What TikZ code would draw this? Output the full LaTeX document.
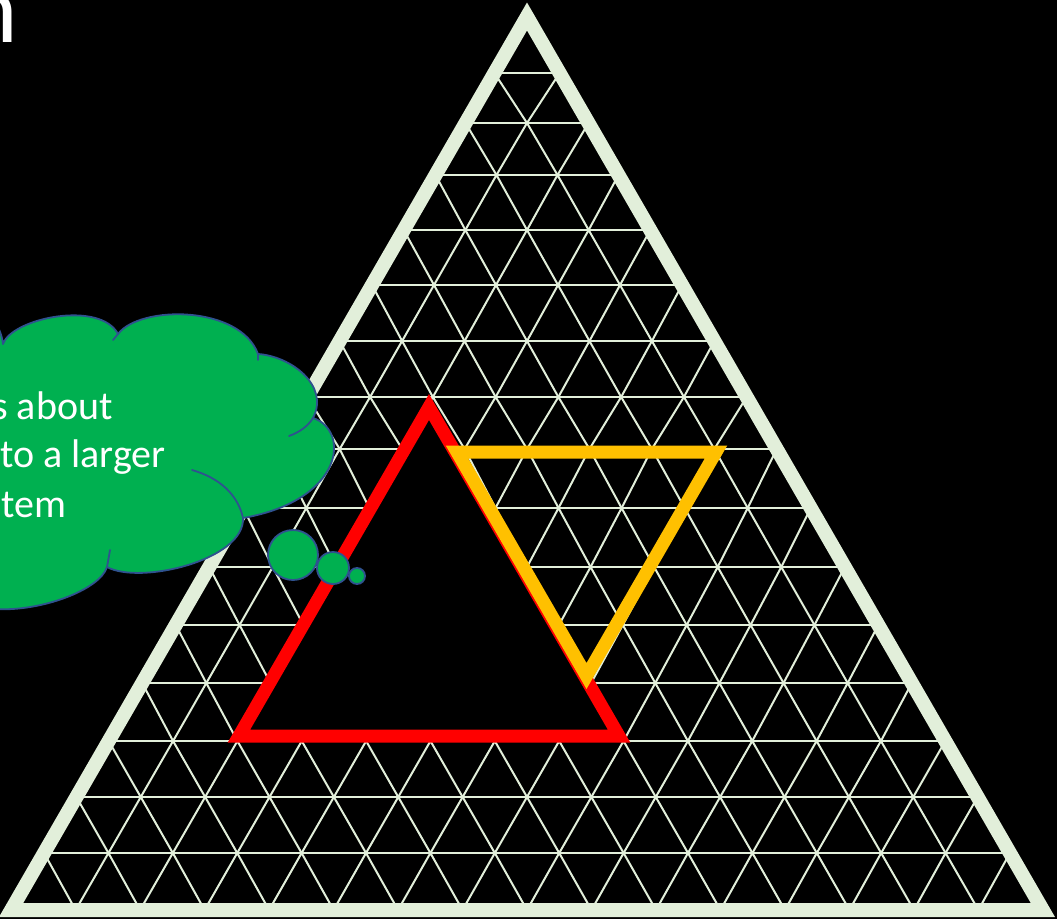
\documentclass[tikz,border=0pt]{standalone}
\usepackage{fontspec}
\setmainfont{Carlito}
\usepackage{xcolor}
\usepackage{tikz}
\usetikzlibrary{calc}
\definecolor{gridgreen}{HTML}{E2EFDA}
\definecolor{trired}{HTML}{FF0000}
\definecolor{triyellow}{HTML}{FFC000}
\definecolor{cloudgreen}{HTML}{00B050}
\definecolor{cloudblue}{HTML}{2F528F}
\tikzset{
  gridline/.style={draw=gridgreen,line width=2pt,line cap=round,line join=round},
  bigtri/.style={draw=gridgreen,line width=14pt},
  redtri/.style={draw=trired,fill=black,line width=13pt},
  yellowtri/.style={draw=triyellow,line width=13pt},
  cloudshape/.style={draw=cloudblue,fill=cloudgreen,line width=1.8pt,line join=round},
  cloudseam/.style={draw=cloudblue,line width=1.8pt,line cap=round},
  bubble/.style={circle,draw=cloudblue,fill=cloudgreen,line width=1.8pt,inner sep=0pt},
  cloudtext/.style={anchor=base west,inner sep=0pt,text=white,font=\fontsize{40}{49}\selectfont},
  titletext/.style={anchor=base east,inner sep=0pt,text=white,font=\fontsize{100}{120}\selectfont}
}

\begin{document}
\begin{tikzpicture}[x=1pt,y=-1pt]
\useasboundingbox (0,0) rectangle (1057,919);
\clip (0,0) rectangle (1057,919);
\fill[black] (0,0) rectangle (1057,919);

% grid vertices, row by row
\foreach \k/\y in {0/16.5,1/73,2/123,3/175,4/230,5/285,6/341,7/397,8/449,
    9/508,10/567,11/625,12/683,13/741,14/797,15/853,16/910}{
  \foreach \j in {0,...,\k}{
    \pgfmathsetmacro\xx{527+(\y-16.5)*0.57735*(2*\j-\k)/max(\k,1)}
    \coordinate (v-\k-\j) at (\xx,\y);
  }
}

\foreach \k in {1,...,15}
  \draw[gridline] (v-\k-0) -- (v-\k-\k);
\foreach \k in {0,...,15}{
  \foreach \j in {0,...,\k}{
    \pgfmathtruncatemacro\kn{\k+1}
    \pgfmathtruncatemacro\jn{\j+1}
    \draw[gridline] (v-\kn-\j) -- (v-\k-\j) -- (v-\kn-\jn);
  }
}

\draw[bigtri] (v-0-0) -- (v-16-0) -- (v-16-16) -- cycle;

\draw[redtri] (429,407) -- (239,736) -- (619,736) -- cycle;
\draw[yellowtri] (457,452) -- (716,452) -- (586.5,676) -- cycle;

% thought cloud
\draw[cloudshape] (-30,318) -- (-8,318) .. controls (-2,325) and (2,335) .. (3,344)
  .. controls (12,318) and (100,300) .. (118,334)
  .. controls (140,305) and (240,305) .. (258,354)
  .. controls (290,356) and (330,385) .. (313,418)
  .. controls (350,430) and (345,500) .. (243,518)
  .. controls (245,560) and (140,585) .. (107,567)
  .. controls (100,590) and (40,612) .. (-5,609)
  -- (-30,609) -- cycle;
\draw[cloudseam] (289,436) .. controls (300,432) and (308,426) .. (313,418);
\draw[cloudseam] (192,470) .. controls (220,478) and (238,495) .. (243,518);
\draw[cloudseam] (110,550) .. controls (109,556) .. (107,567);
\draw[cloudseam] (118,334) -- (113,340);
\draw[cloudseam] (258,354) -- (258,360);

\node[bubble, minimum size=50pt] (bubble1) at (293,555) {};
\node[bubble, minimum size=32pt] (bubble2) at (333,568) {};
\node[bubble, minimum size=16pt] (bubble3) at (357,576) {};

\node[cloudtext] (line1) at (-8,419) {s about};
\node[cloudtext] (line2) at (0,467) {to a larger};
\node[cloudtext] (line3) at (1,517) {tem};

\node[titletext] (titleend) at (18.5,42) {n};
\end{tikzpicture}
\end{document}
